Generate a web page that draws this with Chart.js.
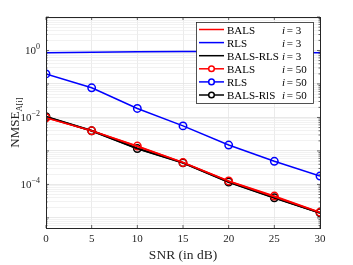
<!DOCTYPE html>
<html>
<head>
<meta charset="utf-8">
<script src="https://cdn.jsdelivr.net/npm/chart.js@4"></script>
<style>
  html, body { margin: 0; padding: 0; background: #fff; }
  #wrap { width: 353px; height: 265px; }
</style>
</head>
<body>
<div id="wrap"><canvas id="myChart" width="353" height="265"></canvas></div>
<script>
// data
const snr = [0, 5, 10, 15, 20, 25, 30];

const balsI3 = [0.0098, 0.0040, 0.00135, 0.00045, 0.000125, 0.000043, 0.0000145];
const rlsI3 = [0.86, 0.88, 0.91, 0.94, 0.93, 0.89, 0.86];
const balsRlsI3 = [0.0105, 0.0040, 0.00118, 0.00044, 0.000118, 0.000040, 0.0000140];
const balsI50 = [0.0098, 0.0040, 0.00140, 0.00045, 0.000127, 0.000045, 0.0000148];
const rlsI50 = [0.20, 0.077, 0.0186, 0.0056, 0.0015, 0.00049, 0.000178];
const balsRlsI50 = [0.0105, 0.0040, 0.00118, 0.00044, 0.000118, 0.000040, 0.0000142];

const names = ["BALS", "RLS", "BALS-RLS", "BALS", "RLS", "BALS-RlS"];
const iLabels = ["i = 3", "i = 3", "i = 3", "i = 50", "i = 50", "i = 50"];

const xTicks = [0, 5, 10, 15, 20, 25, 30];
const yMajor = [1, 1e-2, 1e-4];
const yExp = ["0", "\u22122", "\u22124"];

const yTitle = "NMSE";
const yTitleSub = "A[i]";
const xTitle = "SNR (in dB)";

const FONT = "'Liberation Serif', 'DejaVu Serif', serif";

const mk = (label, vals, color, markers, width) => ({
  label: label,
  data: snr.map((x, k) => ({ x: x, y: vals[k] })),
  borderColor: color,
  backgroundColor: "rgba(255,255,255,0)",
  borderWidth: width,
  pointRadius: markers ? 3.7 : 0,
  pointBorderWidth: 1.5,
  pointBorderColor: color,
  pointBackgroundColor: "rgba(255,255,255,0)",
  tension: 0
});

const data = {
  datasets: [
    mk(names[0], balsI3, "#ff0000", false, 1.5),
    mk(names[1], rlsI3, "#0000ff", false, 1.5),
    mk(names[2], balsRlsI3, "#000000", false, 1.5),
    mk(names[3], balsI50, "#ff0000", true, 1.5),
    mk(names[4], rlsI50, "#0000ff", true, 1.5),
    mk(names[5], balsRlsI50, "#000000", true, 2)
  ]
};

// box, tick labels with exponents, titles, legend
const extras = {
  id: "extras",
  afterDraw(chart) {
    const ctx = chart.ctx;
    const a = chart.chartArea;
    const xs = chart.scales.x;
    const ys = chart.scales.y;
    ctx.save();

    // inward tick marks
    ctx.strokeStyle = "#262626";
    ctx.lineWidth = 0.7;
    ctx.beginPath();
    xTicks.forEach(v => {
      const px = xs.getPixelForValue(v);
      ctx.moveTo(px, a.bottom); ctx.lineTo(px, a.bottom - 3);
      ctx.moveTo(px, a.top); ctx.lineTo(px, a.top + 3);
    });
    for (let e = -6; e <= 1; e++) {
      for (let m = 1; m < 10; m++) {
        const v = m * Math.pow(10, e);
        if (v < ys.min || v > ys.max) continue;
        const py = ys.getPixelForValue(v);
        const len = m === 1 ? 3 : 1.5;
        ctx.moveTo(a.left, py); ctx.lineTo(a.left + len, py);
        ctx.moveTo(a.right, py); ctx.lineTo(a.right - len, py);
      }
    }
    ctx.stroke();

    // box
    ctx.lineWidth = 1;
    ctx.strokeStyle = "#262626";
    ctx.strokeRect(a.left + 0.5, a.top + 0.5, a.right - a.left, a.bottom - a.top);

    // y tick labels 10^n
    ctx.fillStyle = "#262626";
    ctx.textBaseline = "alphabetic";
    yMajor.forEach((v, k) => {
      const py = ys.getPixelForValue(v);
      ctx.font = "8px " + FONT;
      const ew = ctx.measureText(yExp[k]).width;
      ctx.textAlign = "right";
      ctx.fillText(yExp[k], 40, py - 1);
      ctx.font = "11px " + FONT;
      ctx.fillText("10", 40 - ew, py + 4);
    });

    // x tick labels
    ctx.font = "11px " + FONT;
    ctx.textAlign = "center";
    xTicks.forEach(v => {
      ctx.fillText(String(v), xs.getPixelForValue(v), 242);
    });

    // x title
    ctx.font = "13.5px " + FONT;
    ctx.fillText(xTitle, (a.left + a.right) / 2, 259);

    // y title with subscript
    ctx.save();
    ctx.translate(15, (a.top + a.bottom) / 2);
    ctx.rotate(-Math.PI / 2);
    ctx.font = "13px " + FONT;
    const w1 = ctx.measureText(yTitle).width;
    ctx.font = "8.5px " + FONT;
    const w2 = ctx.measureText(yTitleSub).width;
    const start = -(w1 + w2) / 2;
    ctx.textAlign = "left";
    ctx.font = "13px " + FONT;
    ctx.fillText(yTitle, start, 4);
    ctx.font = "8.5px " + FONT;
    ctx.fillText(yTitleSub, start + w1, 7);
    ctx.restore();

    // legend
    const lx = 196.5, ly = 22.5, lw = 117, lh = 81;
    ctx.fillStyle = "#ffffff";
    ctx.fillRect(lx, ly, lw, lh);
    ctx.strokeStyle = "#262626";
    ctx.lineWidth = 0.8;
    ctx.strokeRect(lx, ly, lw, lh);
    chart.data.datasets.forEach((ds, k) => {
      const cy = 29.5 + k * 13.1;
      ctx.strokeStyle = ds.borderColor;
      ctx.lineWidth = 1.5;
      ctx.beginPath();
      ctx.moveTo(199, cy); ctx.lineTo(224, cy);
      ctx.stroke();
      if (ds.pointRadius > 0) {
        ctx.beginPath();
        ctx.arc(211.5, cy, 2.8, 0, Math.PI * 2);
        ctx.fillStyle = "#ffffff";
        ctx.fill();
        ctx.stroke();
      }
      ctx.fillStyle = "#000000";
      ctx.font = "11px " + FONT;
      ctx.textAlign = "left";
      ctx.fillText(ds.label, 227, cy + 4);
      // "i = n" with italic i
      ctx.font = "italic 11px " + FONT;
      ctx.fillText("i", 282, cy + 4);
      ctx.font = "11px " + FONT;
      ctx.fillText(iLabels[k].slice(1), 284, cy + 4);
    });

    ctx.restore();
  }
};

const config = {
  type: "line",
  data,
  options: {
    responsive: false,
    animation: false,
    layout: { padding: { top: 17, right: 33, left: 0, bottom: 0 } },
    plugins: {
      legend: { display: false },
      tooltip: { enabled: false }
    },
    scales: {
      x: {
        type: "linear",
        min: 0,
        max: 30,
        afterFit: (s) => { s.height = 37; },
        afterBuildTicks: (s) => { s.ticks = xTicks.map(v => ({ value: v })); },
        ticks: { display: true, color: "rgba(0,0,0,0)", font: { size: 11 } },
        grid: { color: "#e6e6e6", lineWidth: 0.8, drawTicks: false },
        border: { display: false }
      },
      y: {
        type: "logarithmic",
        min: 5e-6,
        max: 10,
        afterFit: (s) => { s.width = 46; },
        afterBuildTicks: (s) => {
          const t = [];
          for (let e = -6; e <= 1; e++) {
            for (let m = 1; m < 10; m++) {
              const v = m * Math.pow(10, e);
              if (v >= 5e-6 && v <= 10) t.push({ value: v });
            }
          }
          s.ticks = t;
        },
        ticks: { display: true, autoSkip: false, color: "rgba(0,0,0,0)", callback: () => "" },
        grid: {
          drawTicks: false,
          color: (c) => {
            const v = c.tick ? c.tick.value : 0;
            const l = Math.log10(v);
            return Math.abs(l - Math.round(l)) < 1e-6 ? "#e3e3e3" : "#efefef";
          },
          lineWidth: 0.8
        },
        border: { display: false }
      }
    }
  },
  plugins: [extras]
};

const myChart = new Chart(document.getElementById("myChart"), config);
</script>
</body>
</html>
